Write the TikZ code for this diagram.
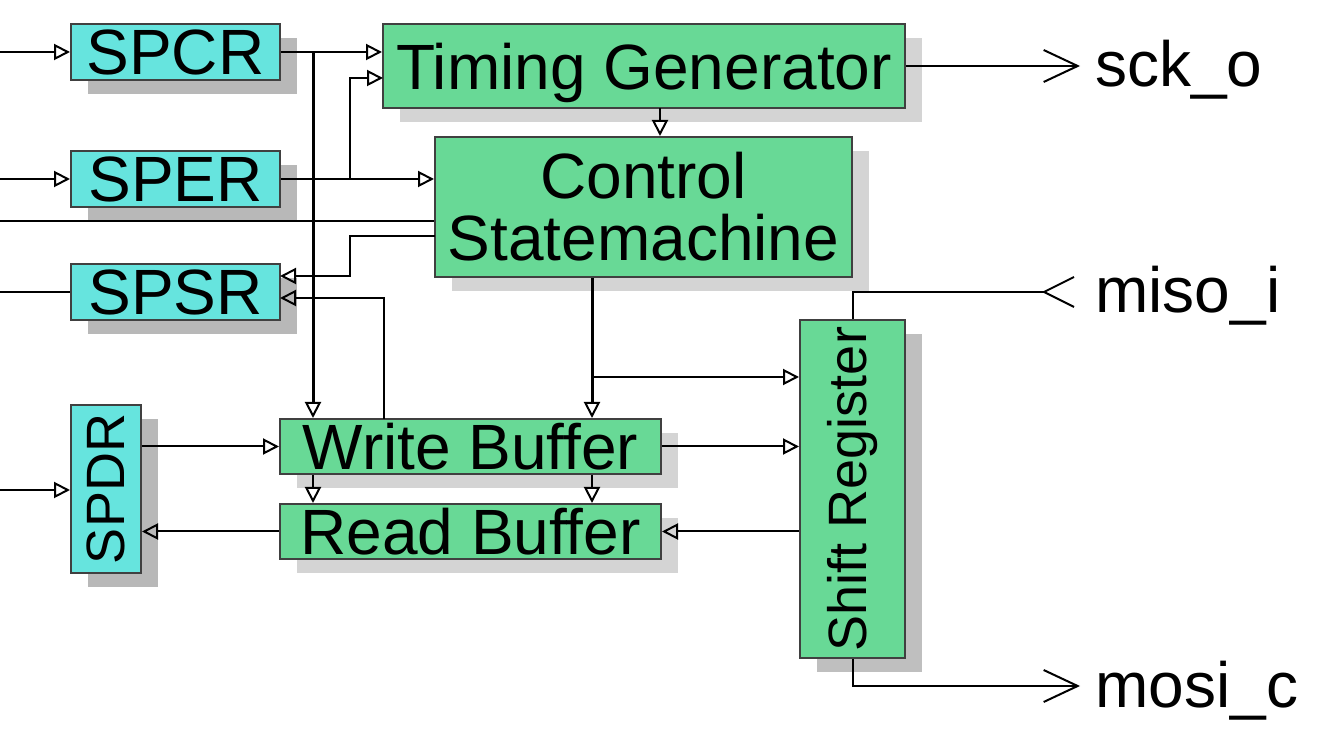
\documentclass[tikz,border=0pt]{standalone}
\usepackage{fontspec}
\setmainfont{Liberation Sans}
\usetikzlibrary{arrows.meta,shadows}
\definecolor{cregc}{RGB}{102,228,222}
\definecolor{cblkg}{RGB}{104,217,150}
\tikzset{
  spiblk/.style={draw=black!75,line width=1pt,inner sep=0pt,align=center,
    font=\fontsize{32}{31}\selectfont,
    drop shadow={shadow xshift=8.5pt,shadow yshift=-7pt,fill=black!17,opacity=1}},
  regblk/.style={spiblk,fill=cregc,drop shadow={shadow xshift=8.5pt,shadow yshift=-7pt,fill=black!28,opacity=1}},
  fnblk/.style={spiblk,fill=cblkg},
  sig/.style={line width=1pt,-{Triangle[open,length=8pt,width=8pt,line width=1pt]}},
  bus/.style={sig,line width=1.5pt},
  pinout/.style={line width=1pt,-{Straight Barb[length=17pt,width=16pt,line width=1pt]}},
  pinin/.style={line width=1pt,-{Straight Barb[reversed,length=15pt,width=15pt,line width=1pt]}},
  port/.style={anchor=west,inner ysep=0pt,text height=25pt,text depth=4pt,font=\fontsize{32}{31}\selectfont}
}
\begin{document}
\begin{tikzpicture}[x=0.5pt,y=-0.5pt]
  \useasboundingbox (0,0) rectangle (1323,732);
  % registers
  \node[regblk,minimum width=104.5pt,minimum height=28pt] (spcr) at (175.5,52) {SPCR};
  \node[regblk,minimum width=104.5pt,minimum height=28pt] (sper) at (175.5,179) {SPER};
  \node[regblk,minimum width=104.5pt,minimum height=28pt] (spsr) at (175.5,292) {SPSR};
  \node[regblk,minimum width=35pt,minimum height=84pt,font=\fontsize{27}{27}\selectfont] (spdr) at (106,489) {\rotatebox{90}{SPDR}};
  % function blocks
  \node[fnblk,minimum width=261pt,minimum height=42pt,text depth=0pt] (tg) at (644,66) {Timing Generator};
  \node[fnblk,minimum width=208.5pt,minimum height=70pt] (csm) at (643.5,207) {Control\\Statemachine};
  \node[fnblk,minimum width=190.5pt,minimum height=27.5pt] (wb) at (470.5,446.5) {Write Buffer};
  \node[fnblk,minimum width=190.5pt,minimum height=27.5pt] (rb) at (470.5,531.5) {Read Buffer};
  \node[fnblk,minimum width=52.5pt,minimum height=169pt,font=\fontsize{27}{27}\selectfont,
    drop shadow={shadow xshift=8.5pt,shadow yshift=-7pt,fill=black!25,opacity=1}] (sr) at (852.5,489) {\rotatebox{90}{Shift Register}};
  % ports
  \node[port,inner xsep=7.5pt] (sck) at (1080,66) {sck\_o};
  \node[port,inner xsep=10pt] (miso) at (1075,292) {miso\_i};
  \node[port,inner xsep=7.5pt] (mosi) at (1080,686) {mosi\_c};

  \foreach \n/\y in {a/52,b/179,c/221,d/292,e/490} \coordinate (in\n) at (0,\y);
  \coordinate (bx) at (313,0);
  \coordinate (ex) at (350,0);
  \coordinate (cx) at (592,0);
  \coordinate (tgin) at (383,78);
  \coordinate (csmout) at (435,236);
  \coordinate (spsrin) at (280,276);
  \coordinate (spsrfb) at (280,298);
  \coordinate (wbup) at (384,419);
  \coordinate (tgdn) at (660,108);
  \coordinate (csmbr) at (592,377);

  \draw[sig] (ina) -- (spcr.west);
  \draw[sig] (inb) -- (sper.west);
  \draw[line width=1pt] (inc) -- (inc -| csm.west);
  \draw[line width=1pt] (ind) -- (spsr.west);
  \draw[sig] (ine) -- (ine -| spdr.west);
  \draw[sig] (spcr.east) -- (spcr.east -| tg.west);
  \draw[bus] (spcr.east -| bx) -- (wb.north -| bx);
  \draw[sig] (wb.south -| bx) -- (rb.north -| bx);
  \draw[sig] (sper.east) -- (sper.east -| csm.west);
  \draw[sig] (sper.east -| ex) |- (tgin);
  \draw[sig] (csmout) -| (ex |- spsrin) -- (spsrin);
  \draw[sig] (wbup) |- (spsrfb);
  \draw[sig] (tgdn) -- (tgdn |- csm.north);
  \draw[pinout] (tg.east) -- (sck.west);
  \draw[bus] (csm.south -| cx) -- (wb.north -| cx);
  \draw[sig] (csmbr) -- (csmbr -| sr.west);
  \draw[sig] (wb.south -| cx) -- (rb.north -| cx);
  \draw[sig] (wb.east) -- (wb.east -| sr.west);
  \draw[sig] (rb.east -| sr.west) -- (rb.east);
  \draw[sig] (rb.west) -- (rb.west -| spdr.east);
  \draw[sig] (wb.west -| spdr.east) -- (wb.west);
  \draw[pinin] (sr.north) |- (miso.west);
  \draw[pinout] (sr.south) |- (mosi.west);
\end{tikzpicture}
\end{document}
